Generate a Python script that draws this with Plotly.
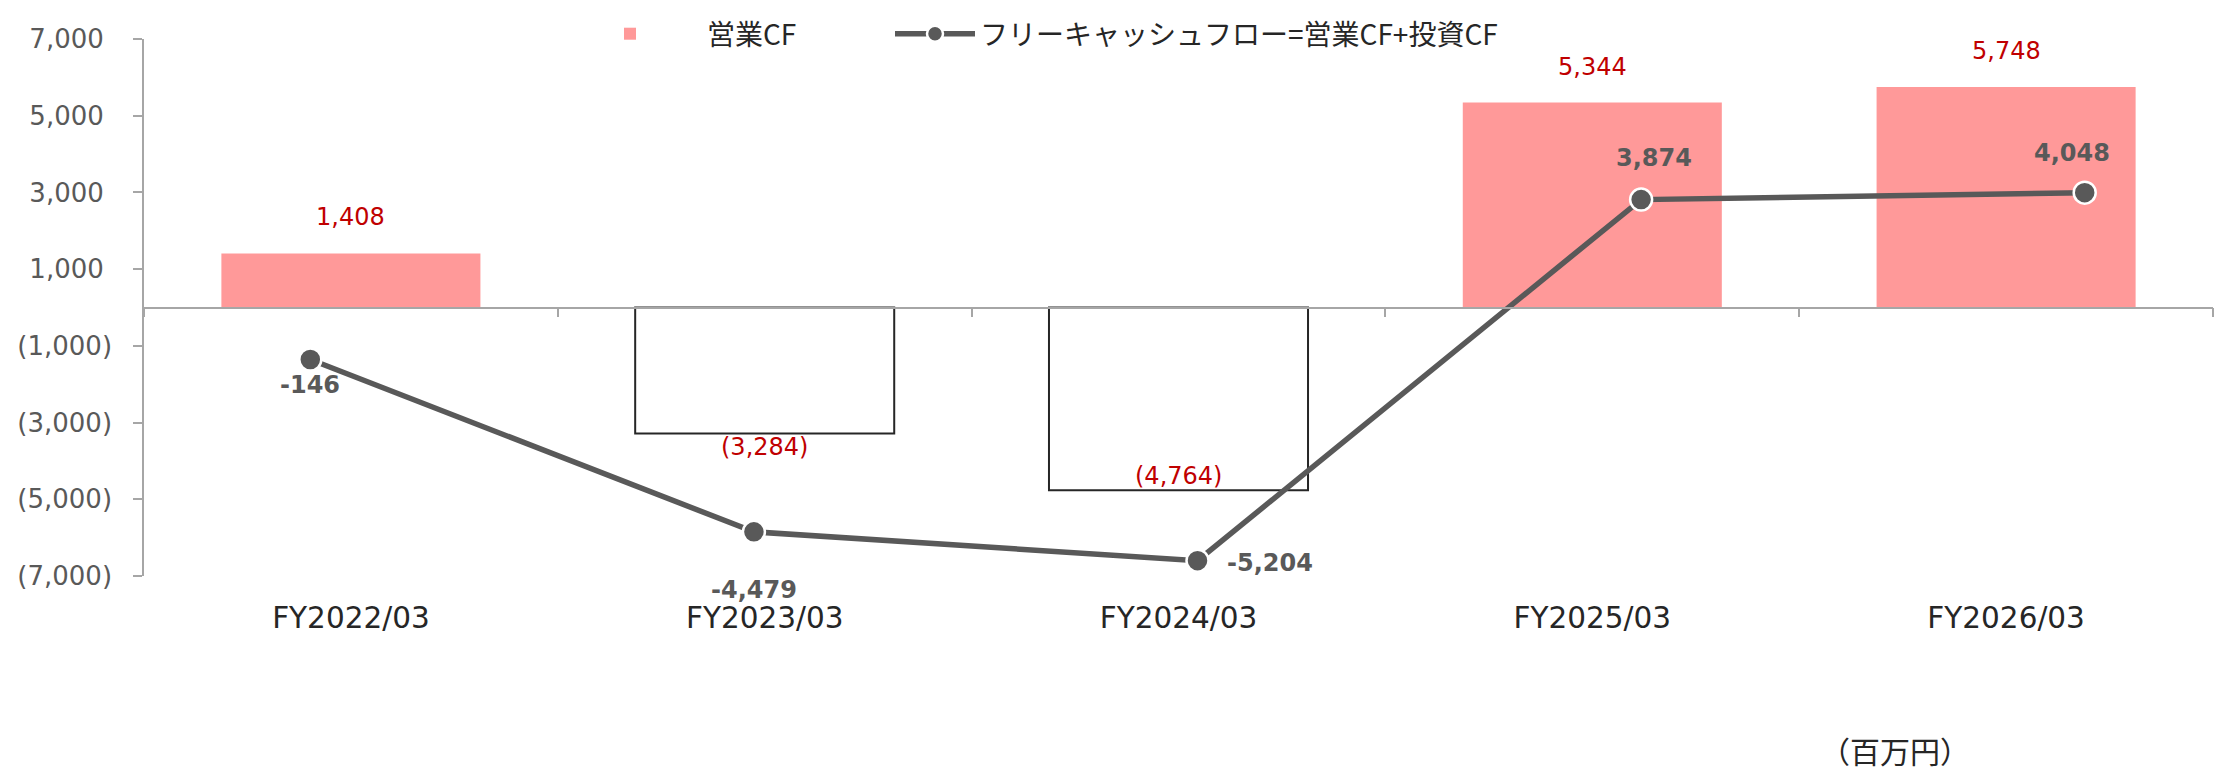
import plotly.graph_objects as go

# ---------------- data ----------------
categories = ["FY2022/03", "FY2023/03", "FY2024/03", "FY2025/03", "FY2026/03"]
operating_cf = [1408, -3284, -4764, 5344, 5748]          # 営業CF (百万円)
free_cf = [-146, -4479, -5204, 3874, 4048]               # フリーキャッシュフロー
y_tickvals = [7000, 5000, 3000, 1000, -1000, -3000, -5000, -7000]
y_ticktext = ["7,000", "5,000", "3,000", "1,000", "(1,000)", "(3,000)", "(5,000)", "(7,000)"]
bar_name = "営業CF"
line_name = "フリーキャッシュフロー=営業CF+投資CF"
unit_label = "（百万円）"

# ---------------- label placement (px offsets) ----------------
bar_label_yshift = [36, -14, 14, 36, 36]
line_label_shift = [(0, -25), (0, -58), (72, -2), (13, 42), (-13, 40)]

# page body has an 8px default margin -> figure is drawn 8px in from the window edge
W, H = 2218, 765
L, T = 136, 31
PLOT_R, PLOT_B = 2205, 568
R, B = W - PLOT_R, H - PLOT_B
PW, PH = PLOT_R - L, PLOT_B - T


def px_x(x):
    return (x - L) / PW


def px_y(y):
    return (PLOT_B - y) / PH


PINK = "#FF9999"
RED = "#C00000"
GREY = "#595959"
AXIS = "#A6A6A6"
DARK = "#262626"
LATIN = "DejaVu Sans"
CJK = "Noto Sans CJK JP"


def fmt_paren(v):
    return f"({abs(v):,})" if v < 0 else f"{v:,}"


fig = go.Figure()

fig.add_trace(go.Bar(
    x=categories, y=operating_cf, name=bar_name, legend="legend",
    marker=dict(
        color=[PINK if v >= 0 else "#FFFFFF" for v in operating_cf],
        line=dict(color=DARK, width=[0 if v >= 0 else 2 for v in operating_cf]),
    ),
    width=0.626, xaxis="x", yaxis="y", hoverinfo="skip",
))

fig.add_trace(go.Scatter(
    x=categories, y=free_cf, name=line_name, mode="lines+markers", legend="legend2",
    line=dict(color=GREY, width=5.5),
    marker=dict(size=22, color=GREY, line=dict(color="#FFFFFF", width=2.5)),
    xaxis="x2", yaxis="y2", hoverinfo="skip",
))

annotations = []
for c, v, s in zip(categories, operating_cf, bar_label_yshift):
    annotations.append(dict(
        x=c, y=v, xref="x", yref="y", text=fmt_paren(v), showarrow=False,
        xanchor="center", yanchor="middle", yshift=s,
        font=dict(family=LATIN, size=24, color=RED),
    ))
for c, v, (dx, dy) in zip(categories, free_cf, line_label_shift):
    annotations.append(dict(
        x=c, y=v, xref="x2", yref="y2", text=f"<b>{v:,}</b>", showarrow=False,
        xanchor="center", yanchor="middle", xshift=dx, yshift=dy,
        font=dict(family=LATIN, size=24, color=GREY),
    ))
annotations.append(dict(
    x=px_x(1887), y=px_y(742), xref="paper", yref="paper",
    text=unit_label, showarrow=False, xanchor="center", yanchor="middle",
    font=dict(family=CJK, size=30, color=DARK),
))

ticktext = [t if t.startswith("(") else t + "\u00a0" for t in y_ticktext]

legend_common = dict(
    orientation="h", xanchor="left", yanchor="top", bgcolor="rgba(0,0,0,0)",
    font=dict(family=CJK, size=28, color=DARK), y=px_y(1),
)

fig.update_layout(
    width=W, height=H,
    margin=dict(l=L, r=R, t=T, b=B, pad=0, autoexpand=False),
    paper_bgcolor="white", plot_bgcolor="white",
    showlegend=True,
    legend=dict(legend_common, x=px_x(622 - 77), itemwidth=144),
    legend2=dict(legend_common, x=px_x(882), itemwidth=80),
    xaxis=dict(
        type="category", categoryorder="array", categoryarray=categories,
        range=[-0.5, 4.5], anchor="free", position=0.5,
        showline=True, linecolor=AXIS, linewidth=1.5,
        ticks="outside", tickson="boundaries", ticklen=9, tickcolor=AXIS, tickwidth=1.5,
        showgrid=False, zeroline=False,
        tickfont=dict(family=LATIN, size=29.5, color=DARK),
        ticklabelstandoff=284, automargin=False, fixedrange=True,
    ),
    yaxis=dict(
        range=[-7000, 7000], tickmode="array", tickvals=y_tickvals, ticktext=ticktext,
        showline=True, linecolor=AXIS, linewidth=1.5,
        ticks="outside", ticklen=9, tickcolor=AXIS, tickwidth=1.5,
        showgrid=False, zeroline=False,
        tickfont=dict(family=LATIN, size=26, color=GREY),
        ticklabelstandoff=16, automargin=False, fixedrange=True,
    ),
    xaxis2=dict(
        type="category", categoryorder="array", categoryarray=categories,
        overlaying="x", anchor="y2", range=[-0.3749, 4.2892], visible=False, fixedrange=True,
    ),
    yaxis2=dict(
        overlaying="y", anchor="x2", range=[-5589, 7912], visible=False, fixedrange=True,
    ),
    annotations=annotations,
)

fig.write_html("out.html")
